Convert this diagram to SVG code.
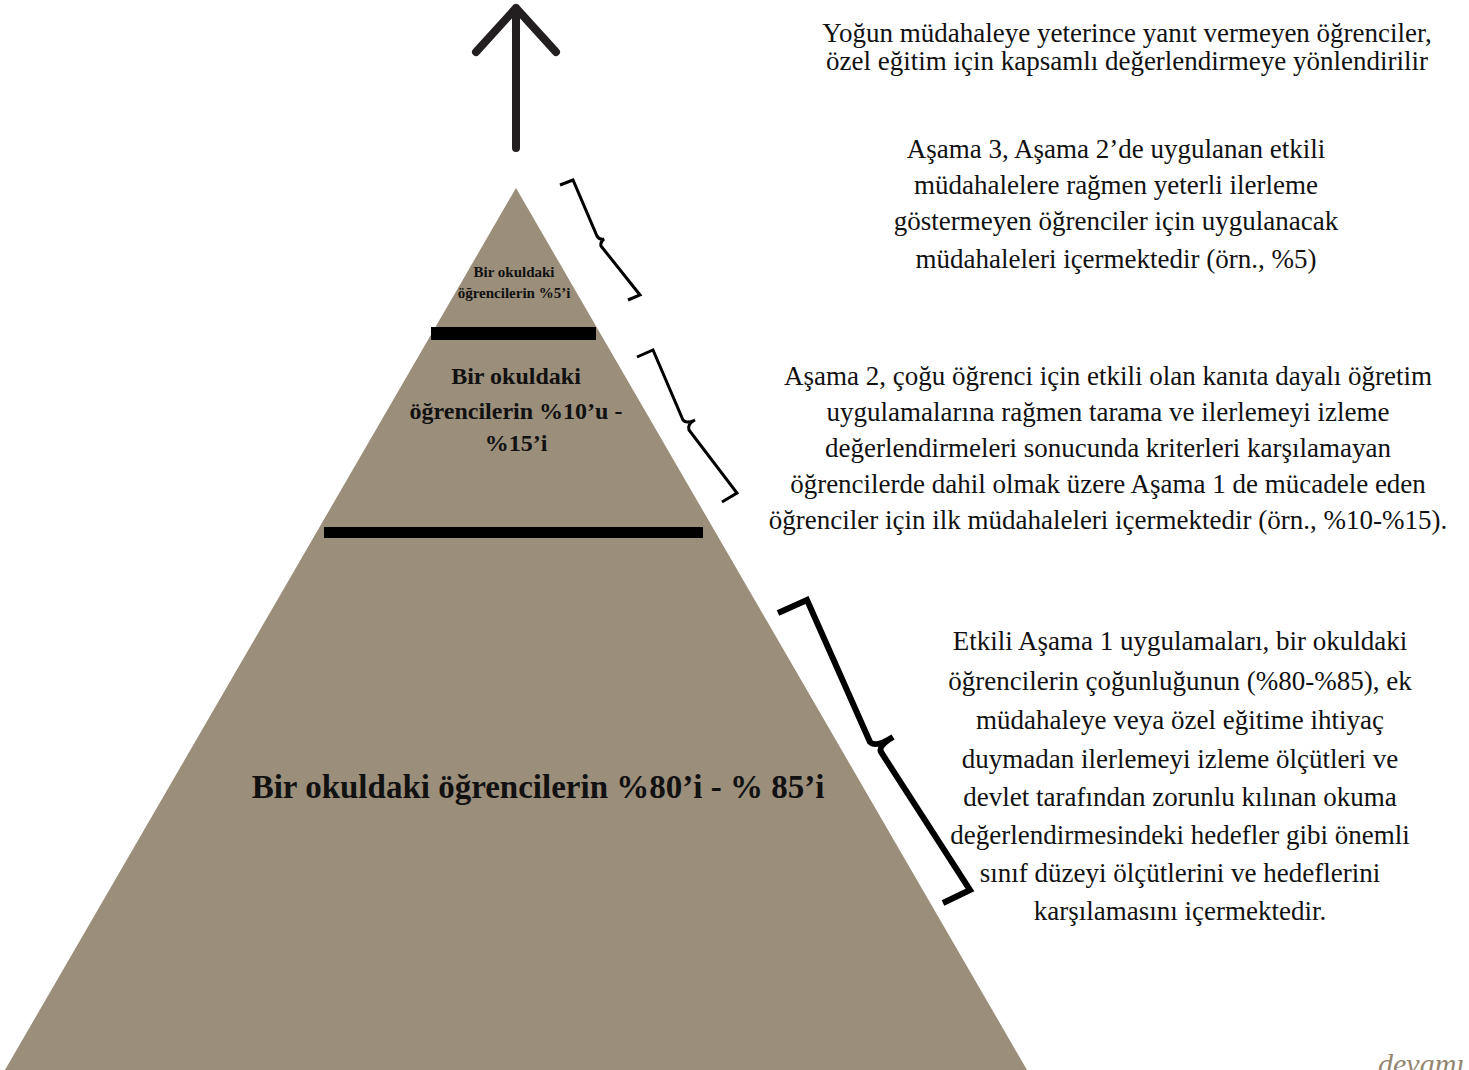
<svg xmlns="http://www.w3.org/2000/svg" width="1469" height="1070" viewBox="0 0 1469 1070">
<style>
.t{font-family:"Liberation Serif","Times New Roman",serif;font-size:27px;fill:#111;text-anchor:middle}
.b{font-family:"Liberation Serif","Times New Roman",serif;font-weight:bold;fill:#111;text-anchor:middle}
.br{fill:none;stroke:#000;stroke-linejoin:miter;stroke-linecap:butt}
</style>
<rect width="1469" height="1070" fill="#fff"/>
<g id="pyramid">
<polygon points="516,188 1034,1082 -2,1082" fill="#9b8e7a"/>
<rect x="431" y="327" width="165" height="13" fill="#000"/>
<rect x="324" y="527" width="379" height="11" fill="#000"/>
</g>
<g id="tier3">
<text class="b" x="514" y="277" font-size="15">Bir okuldaki</text>
<text class="b" x="514" y="298" font-size="15">öğrencilerin %5’i</text>
</g>
<g id="tier2">
<text class="b" x="516" y="384" font-size="24">Bir okuldaki</text>
<text class="b" x="516" y="419" font-size="24">öğrencilerin %10’u -</text>
<text class="b" x="516" y="451" font-size="24">%15’i</text>
</g>
<g id="tier1">
<text class="b" x="538" y="798" font-size="33">Bir okuldaki öğrencilerin %80’i - % 85’i</text>
</g>
<g id="connectors">
<path d="M516,148 L516,8 M476,52 L516,8 L556,52" fill="none" stroke="#231f20" stroke-width="8" stroke-linecap="round" stroke-linejoin="round"/>
<path class="br" stroke-width="3" d="M560,185 L573,180 L597,236 Q599,240 604,239 Q600,242 601,246 L640,295 L628,300"/>
<path class="br" stroke-width="3" d="M637,357 L653,350 L683,420 Q686,424 695,420 Q687,424 689,430 L737,493 L722,502"/>
<path class="br" stroke-width="6" d="M778,613 L807,600 L870,742 Q876,748 893,737 Q878,746 881,752 L970,890 L943,903"/>
</g>
<g id="text-referral">
<text class="t" x="1127" y="42">Yoğun müdahaleye yeterince yanıt vermeyen öğrenciler,</text>
<text class="t" x="1127" y="70">özel eğitim için kapsamlı değerlendirmeye yönlendirilir</text>
</g>
<g id="text-tier3">
<text class="t" x="1116" y="158" font-size="28.5">Aşama 3, Aşama 2’de uygulanan etkili</text>
<text class="t" x="1116" y="194" font-size="28.5">müdahalelere rağmen yeterli ilerleme</text>
<text class="t" x="1116" y="230" font-size="28.5">göstermeyen öğrenciler için uygulanacak</text>
<text class="t" x="1116" y="268" font-size="28.5">müdahaleleri içermektedir (örn., %5)</text>
</g>
<g id="text-tier2">
<text class="t" x="1108" y="385" font-size="26.7">Aşama 2, çoğu öğrenci için etkili olan kanıta dayalı öğretim</text>
<text class="t" x="1108" y="421" font-size="26.7">uygulamalarına rağmen tarama ve ilerlemeyi izleme</text>
<text class="t" x="1108" y="457" font-size="26.7">değerlendirmeleri sonucunda kriterleri karşılamayan</text>
<text class="t" x="1108" y="493" font-size="26.7">öğrencilerde dahil olmak üzere Aşama 1 de mücadele eden</text>
<text class="t" x="1108" y="529" font-size="26.7">öğrenciler için ilk müdahaleleri içermektedir (örn., %10-%15).</text>
</g>
<g id="text-tier1">
<text class="t" x="1180" y="650" font-size="28.3">Etkili Aşama 1 uygulamaları, bir okuldaki</text>
<text class="t" x="1180" y="690" font-size="28.3">öğrencilerin çoğunluğunun (%80-%85), ek</text>
<text class="t" x="1180" y="729" font-size="28.3">müdahaleye veya özel eğitime ihtiyaç</text>
<text class="t" x="1180" y="768" font-size="28.3">duymadan ilerlemeyi izleme ölçütleri ve</text>
<text class="t" x="1180" y="806" font-size="28.3">devlet tarafından zorunlu kılınan okuma</text>
<text class="t" x="1180" y="844" font-size="28.3">değerlendirmesindeki hedefler gibi önemli</text>
<text class="t" x="1180" y="882" font-size="28.3">sınıf düzeyi ölçütlerini ve hedeflerini</text>
<text class="t" x="1180" y="920" font-size="28.3">karşılamasını içermektedir.</text>
</g>
<g id="continued">
<text x="1378" y="1074" font-family="Liberation Serif, serif" font-style="italic" font-size="30" fill="#948670">devamı</text>
</g>
</svg>
